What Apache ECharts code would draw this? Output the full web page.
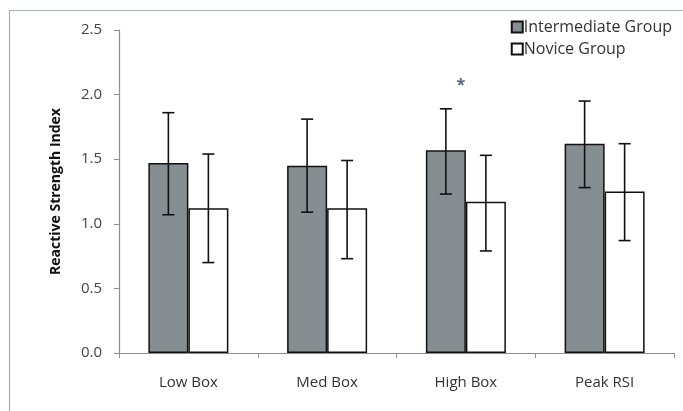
<!DOCTYPE html>
<html>
<head>
<meta charset="utf-8">
<script src="https://cdn.jsdelivr.net/npm/echarts@6/dist/echarts.min.js"></script>
<style>
  html, body { margin: 0; padding: 0; background: #fff; }
  #chart { width: 683px; height: 411px; }
</style>
</head>
<body>
<div id="chart"></div>
<script>
const categories = ['Low Box', 'Med Box', 'High Box', 'Peak RSI']
const intermediateMean = [1.47, 1.45, 1.57, 1.62]
const intermediateLow = [1.07, 1.09, 1.23, 1.28]
const intermediateHigh = [1.86, 1.81, 1.89, 1.95]
const noviceMean = [1.12, 1.12, 1.17, 1.25]
const noviceLow = [0.70, 0.73, 0.79, 0.87]
const noviceHigh = [1.54, 1.49, 1.53, 1.62]
const starMark = [['High Box', 2.1]]

const BAR_W = 40
const FONT = 'Open Sans, DejaVu Sans, sans-serif'

function errorSeries(lows, highs, offset) {
  return {
    type: 'custom',
    z: 5,
    silent: true,
    data: categories.map((c, i) => [i, lows[i], highs[i]]),
    renderItem(params, api) {
      const lo = api.coord([api.value(0), api.value(1)])
      const hi = api.coord([api.value(0), api.value(2)])
      const x = lo[0] + offset
      const cap = 6
      const style = { stroke: '#111', lineWidth: 1.6 }
      return {
        type: 'group',
        children: [
          { type: 'line', shape: { x1: x, y1: lo[1], x2: x, y2: hi[1] }, style },
          { type: 'line', shape: { x1: x - cap, y1: hi[1], x2: x + cap, y2: hi[1] }, style },
          { type: 'line', shape: { x1: x - cap, y1: lo[1], x2: x + cap, y2: lo[1] }, style }
        ]
      }
    }
  }
}

const chart = echarts.init(document.getElementById('chart'))
chart.setOption({
  animation: false,
  backgroundColor: '#fff',
  graphic: [{
    type: 'rect',
    shape: { x: 9.5, y: 10.5, width: 700, height: 420 },
    style: { fill: 'none', stroke: '#a9aeb2', lineWidth: 1.2 },
    z: -1
  }],
  grid: { left: 119, right: 9, top: 30, bottom: 58 },
  legend: {
    orient: 'vertical',
    right: 6,
    top: 14,
    itemWidth: 11,
    itemHeight: 11,
    itemGap: 6,
    icon: 'rect',
    textStyle: { fontFamily: FONT, fontSize: 16, color: '#333', padding: [0, 0, 0, -4] },
    data: ['Intermediate Group', 'Novice Group']
  },
  xAxis: {
    type: 'category',
    data: categories,
    axisLine: { lineStyle: { color: '#8a8f93', width: 1.2 } },
    axisTick: { show: true, length: 5, lineStyle: { color: '#8a8f93' } },
    axisLabel: { fontFamily: FONT, fontSize: 15, color: '#333', margin: 22 }
  },
  yAxis: {
    type: 'value',
    min: 0,
    max: 2.5,
    interval: 0.5,
    name: 'Reactive Strength Index',
    nameLocation: 'middle',
    nameGap: 56,
    nameTextStyle: { fontFamily: FONT, fontSize: 14, fontWeight: 'bold', color: '#111' },
    axisLine: { show: true, lineStyle: { color: '#8a8f93', width: 1.2 } },
    axisTick: { show: true, length: 5, lineStyle: { color: '#8a8f93' } },
    axisLabel: { fontFamily: FONT, fontSize: 15, color: '#444', margin: 17, formatter: v => v.toFixed(1) },
    splitLine: { show: false }
  },
  series: [
    {
      name: 'Intermediate Group',
      type: 'bar',
      barWidth: BAR_W,
      barGap: '0%',
      data: intermediateMean,
      itemStyle: { color: '#868e92', borderColor: '#111', borderWidth: 1.5 }
    },
    {
      name: 'Novice Group',
      type: 'bar',
      barWidth: BAR_W,
      barGap: '0%',
      data: noviceMean,
      itemStyle: { color: '#fff', borderColor: '#111', borderWidth: 1.5 }
    },
    errorSeries(intermediateLow, intermediateHigh, -BAR_W / 2),
    errorSeries(noviceLow, noviceHigh, BAR_W / 2),
    {
      type: 'scatter',
      silent: true,
      symbolSize: 0,
      data: starMark,
      label: {
        show: true,
        position: 'inside',
        formatter: '*',
        fontFamily: FONT,
        fontSize: 16,
        fontWeight: 'bold',
        color: '#1f3f5a',
        offset: [-5, 4]
      }
    }
  ]
})
</script>
</body>
</html>
